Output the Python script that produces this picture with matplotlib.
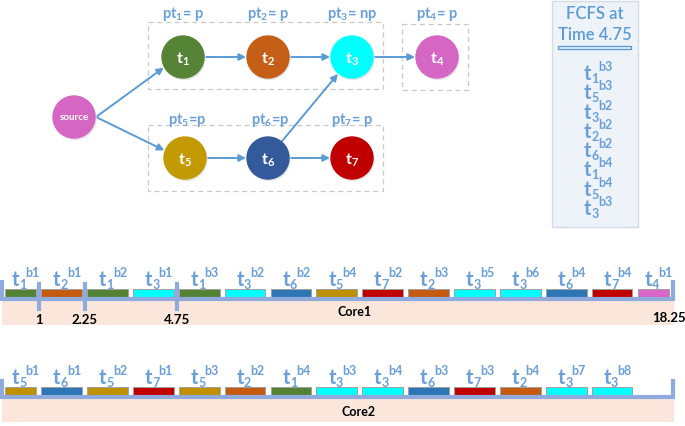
import matplotlib
matplotlib.use('Agg')
import matplotlib.pyplot as plt
from matplotlib.patches import Circle, Rectangle
from matplotlib.transforms import offset_copy

plt.rcParams['font.family'] = ['Lato', 'DejaVu Sans']
plt.rcParams['mathtext.fontset'] = 'custom'
plt.rcParams['mathtext.rm'] = 'Lato'
plt.rcParams['mathtext.it'] = 'Lato:italic'
plt.rcParams['mathtext.bf'] = 'Lato:bold'

# task graph
node_names = ['source', 't1', 't2', 't3', 't4', 't5', 't6', 't7']
node_colors = ['#d566c3', '#568437', '#c55e17', '#00ffff', '#d566c3',
               '#c39a03', '#335a9a', '#c00000']
pt_labels = ['pt1= p', 'pt2= p', 'pt3= np', 'pt4= p', 'pt5=p', 'pt6=p', 'pt7= p']
edges = [('source', 't1'), ('source', 't5'), ('t1', 't2'), ('t2', 't3'),
         ('t3', 't4'), ('t5', 't6'), ('t6', 't7'), ('t6', 't3')]

# FCFS queue at time 4.75
queue_tasks = [1, 5, 3, 2, 6, 1, 5, 3]
queue_blocks = [3, 3, 2, 2, 2, 4, 4, 3]

# schedules (task, block, start, end)
core1_tasks = [1, 2, 1, 3, 1, 3, 6, 5, 7, 2, 3, 3, 6, 7, 4]
core1_blocks = [1, 1, 2, 1, 3, 2, 2, 4, 2, 3, 5, 6, 4, 4, 1]
core1_start = [0, 1, 2.25, 3.5, 4.75, 6, 7.25, 8.5, 9.75, 11, 12.25, 13.5, 14.75, 16, 17.25]
core1_end = [1, 2.25, 3.5, 4.75, 6, 7.25, 8.5, 9.75, 11, 12.25, 13.5, 14.75, 16, 17.25, 18.25]
core1_ticks = [1, 2.25, 4.75]

core2_tasks = [5, 6, 5, 7, 5, 2, 1, 3, 3, 6, 7, 2, 3, 3]
core2_blocks = [1, 1, 2, 1, 3, 2, 4, 3, 4, 3, 3, 4, 7, 8]
core2_start = [0, 1, 2.25, 3.5, 4.75, 6, 7.25, 8.5, 9.75, 11, 12.25, 13.5, 14.75, 16]
core2_end = [1, 2.25, 3.5, 4.75, 6, 7.25, 8.5, 9.75, 11, 12.25, 13.5, 14.75, 16, 17.25]
t_end = 18.25

task_colors = {1: '#548235', 2: '#c55a11', 3: '#00ffff', 4: '#d966c8',
               5: '#bf9000', 6: '#2e75b6', 7: '#c00000'}

blue = '#5b9bd5'
tblue = '#6a9fd8'
lblue = '#8faadc'
peach = '#fae6da'

fig = plt.figure(figsize=(6.85, 4.27), dpi=100)
ax = fig.add_axes([0, 0, 1, 1])
ax.set_xlim(0, 685)
ax.set_ylim(427, 0)
ax.axis('off')


def block_label(axis, x, y, task, block, dx=0):
    # t with subscript task number and superscript block id, offsets in pixels
    parts = [('t', 0, 0, 14.5), (str(task), 7.5, -3, 9), ('b%d' % block, 14, 9, 9)]
    for s, ox, oy, fs in parts:
        axis.text(x, y, s, color=tblue, fontsize=fs, fontweight='bold',
                  ha='left', va='baseline', zorder=4,
                  transform=offset_copy(axis.transData, fig, x=dx + ox, y=oy, units='dots'))


pos = {'source': (74, 118), 't1': (183, 58), 't2': (268, 58), 't3': (352, 58),
       't4': (437, 58), 't5': (185, 159), 't6': (268, 159), 't7': (352, 159)}
r = 21

# dashed groups
for x0, y0, x1, y1 in [(148, 23, 383, 90), (148, 126, 383, 192), (402, 25, 468, 91)]:
    ax.add_patch(Rectangle((x0, y0), x1 - x0, y1 - y0, fill=False,
                           ec='#c8c8c8', lw=0.9, ls=(0, (4, 3))))

for name, col in zip(node_names, node_colors):
    x, y = pos[name]
    ax.add_patch(Circle((x + 1, y + 1.5), r, color='#e6e6e6', zorder=2))
    ax.add_patch(Circle((x, y), r, color=col, zorder=3))
    if name == 'source':
        ax.text(x, y, 'source', color='white', fontsize=7, fontweight='bold',
                ha='center', va='center', zorder=4)
    else:
        ax.text(x, y + 1, r'$\mathbf{t_{%s}}$' % name[1], color='white',
                fontsize=11.5, ha='center', va='center', zorder=4)

for lab, name in zip(pt_labels, node_names[1:]):
    x, y = pos[name]
    num, rest = lab[2], lab[3:]
    ax.text(x + (2 if name in ('t5', 't6') else 0), y - 44 if y < 100 else y - 39,
            r'$\mathbf{pt_{%s}}$%s' % (num, rest), color=tblue, fontsize=10.5,
            fontweight='bold', ha='center', va='center')

for a, b in edges:
    xa, ya = pos[a]
    xb, yb = pos[b]
    dx, dy = xb - xa, yb - ya
    d = (dx ** 2 + dy ** 2) ** 0.5
    ux, uy = dx / d, dy / d
    if a == 'source':
        start = (xa + r + 1, ya)
    else:
        start = (xa + ux * r, ya + uy * r)
    end = (xb - ux * (r + 1), yb - uy * (r + 1))
    ax.annotate('', xy=end, xytext=start, zorder=1,
                arrowprops=dict(arrowstyle='-|>', color=blue, lw=1.4,
                                mutation_scale=10, shrinkA=0, shrinkB=0))

# FCFS panel
ax.add_patch(Rectangle((552, 2), 86, 226, fc='#eef3fa', ec='#d3dbe6', lw=1))
ax.text(595, 14, 'FCFS at', color=blue, fontsize=12, fontweight='semibold',
        ha='center', va='center')
ax.text(595, 35, 'Time 4.75', color=blue, fontsize=12, fontweight='semibold',
        ha='center', va='center')
ax.add_patch(Rectangle((558, 47), 73, 2.5, fill=False, ec=blue, lw=1))
for i, (tk, bk) in enumerate(zip(queue_tasks, queue_blocks)):
    block_label(ax, 584, 80 + i * 19.3, tk, bk)

# time axes
x0, s = 2.3, 36.7
tx = fig.add_axes([0, 0, 1, 1])
tx.set_xlim(-x0 / s, (685 - x0) / s)
tx.set_ylim(427, 0)
tx.axis('off')


def draw_core(tasks, blocks, start, end, y_line, y_top, band_h, ticks, name, name_xy):
    tx.add_patch(Rectangle((-0.01, y_line), t_end + 0.06, band_h, fc=peach, ec='none', zorder=1))
    tx.plot([0, 0, t_end + 0.03, t_end + 0.03], [y_top, y_line, y_line, y_top],
            color=lblue, lw=3, solid_joinstyle='miter', zorder=3)
    for tk, bk, a, b in zip(tasks, blocks, start, end):
        tx.barh(y_line - 6, b - a - 0.14, left=a + 0.06, height=8,
                color=task_colors[tk], ec='#a0a0a0', lw=0.7, zorder=2)
        block_label(tx, (a + b) / 2, y_line - 14, tk, bk, dx=-9)
    for t in ticks:
        tx.plot([t, t], [y_line - 15, y_line + 10], color=lblue, lw=3, zorder=3)
    tx.text(name_xy[0], name_xy[1], name, fontsize=9, fontweight='bold',
            ha='center', va='center', zorder=5, transform=ax.transData)


draw_core(core1_tasks, core1_blocks, core1_start, core1_end, 300, 283, 26, core1_ticks,
          'Core1', (355, 312))
draw_core(core2_tasks, core2_blocks, core2_start, core2_end, 398, 382, 25, [],
          'Core2', (359, 412))

for t in core1_ticks:
    tx.text(t, 320, '%g' % t, fontsize=9.5, fontweight='bold', ha='center', va='center')
tx.text(t_end + 0.38, 318, '%g' % t_end, fontsize=9.5, fontweight='bold',
        ha='right', va='center')

fig.savefig('out.png', dpi=100, facecolor='white')
